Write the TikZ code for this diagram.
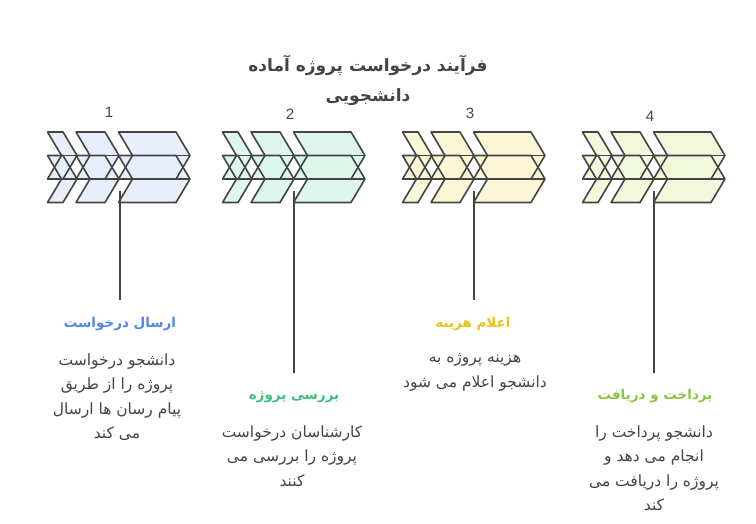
\documentclass[tikz,border=0pt]{standalone}
\usepackage{fontspec}
\setmainfont{Liberation Sans}
\newfontfamily\arabicfont[Script=Arabic]{DejaVu Sans}
\TeXXeTstate=1
\usetikzlibrary{positioning}

\definecolor{inkgray}{HTML}{444444}
\definecolor{fillA}{HTML}{E8EEFB}
\definecolor{fillB}{HTML}{DEF7EC}
\definecolor{fillC}{HTML}{FBF6D6}
\definecolor{fillD}{HTML}{F1F8DC}
\definecolor{capA}{HTML}{4F86E8}
\definecolor{capB}{HTML}{3DC07E}
\definecolor{capC}{HTML}{E3C31C}
\definecolor{capD}{HTML}{8CC43F}

\newcommand{\fa}[1]{{\arabicfont\beginR #1\endR}}
% one chevron: left x, width, top y
\newcommand{\chev}[3]{(#1,#3) -- ++(#2,0) -- ++(14,23.5) -- ++(-14,23.5) -- ++(-#2,0) -- ++(14,-23.5) -- cycle}
% two rows of three chevrons
\newcommand{\chevgroup}[2]{%
  \foreach \a/\w in {0/15.5,28.5/29,71/57.5}{
    \fill[#2] \chev{#1+\a}{\w}{132};
    \fill[#2] \chev{#1+\a}{\w}{155.5};
  }
  \foreach \a/\w in {0/15.5,28.5/29,71/57.5}{
    \draw[chevline] \chev{#1+\a}{\w}{132};
    \draw[chevline] \chev{#1+\a}{\w}{155.5};
  }
  \draw[chevline] (#1,155.5) -- (#1+142.5,155.5);
  \draw[chevline] (#1,179) -- (#1+142.5,179);
}

\begin{document}
\begin{tikzpicture}[x=1pt,y=-1pt]
  \tikzset{chevline/.style = {draw=inkgray,line width=1.6pt,line join=round}}
  \tikzset{stem/.style = {draw=inkgray,line width=1.8pt}}
  \tikzset{numlabel/.style = {text=inkgray,font=\fontsize{15}{18}\selectfont,inner sep=0pt}}
  \tikzset{facap/.style = {font=\fontsize{13.5}{18}\selectfont\bfseries,inner sep=0pt}}
  \tikzset{fabody/.style = {text=inkgray,align=center,font=\fontsize{15.5}{24.5}\selectfont,inner sep=0pt}}

  \useasboundingbox (0,0) rectangle (756,523);

  % title
  \node[facap,text=inkgray,align=center,font=\fontsize{17}{30}\selectfont\bfseries] (title) at (368,80)
    {\fa{فرآیند درخواست پروژه آماده}\\\fa{دانشجویی}};

  % chevrons
  \chevgroup{47.5}{fillA}
  \chevgroup{222.5}{fillB}
  \chevgroup{402.5}{fillC}
  \chevgroup{582.5}{fillD}

  % step numbers
  \node[numlabel] (n1) at (109,112) {1};
  \node[numlabel] (n2) at (290,114) {2};
  \node[numlabel] (n3) at (470,113) {3};
  \node[numlabel] (n4) at (650,116) {4};

  % stems
  \coordinate (s1top) at (120,191);  \coordinate (s1bot) at (120,300);
  \coordinate (s2top) at (294,191);  \coordinate (s2bot) at (294,373);
  \coordinate (s3top) at (474,191);  \coordinate (s3bot) at (474,300);
  \coordinate (s4top) at (654,191);  \coordinate (s4bot) at (654,373);
  \draw[stem] (s1top) -- (s1bot);
  \draw[stem] (s2top) -- (s2bot);
  \draw[stem] (s3top) -- (s3bot);
  \draw[stem] (s4top) -- (s4bot);

  % step texts
  \node[facap,text=capA] (t1) at (120,324) {\fa{ارسال درخواست}};
  \node[fabody] (b1) at (117,397)
    {\fa{دانشجو درخواست}\\\fa{پروژه را از طریق}\\\fa{پیام رسان ها ارسال}\\\fa{می کند}};

  \node[facap,text=capB] (t2) at (294,397) {\fa{بررسی پروژه}};
  \node[fabody] (b2) at (292,456)
    {\fa{کارشناسان درخواست}\\\fa{پروژه را بررسی می}\\\fa{کنند}};

  \node[facap,text=capC] (t3) at (473,324) {\fa{اعلام هزینه}};
  \node[fabody] (b3) at (475,372.5)
    {\fa{هزینه پروژه به}\\\fa{دانشجو اعلام می شود}};

  \node[facap,text=capD] (t4) at (655,396) {\fa{پرداخت و دریافت}};
  \node[fabody] (b4) at (654,468)
    {\fa{دانشجو پرداخت را}\\\fa{انجام می دهد و}\\\fa{پروژه را دریافت می}\\\fa{کند}};
\end{tikzpicture}
\end{document}
